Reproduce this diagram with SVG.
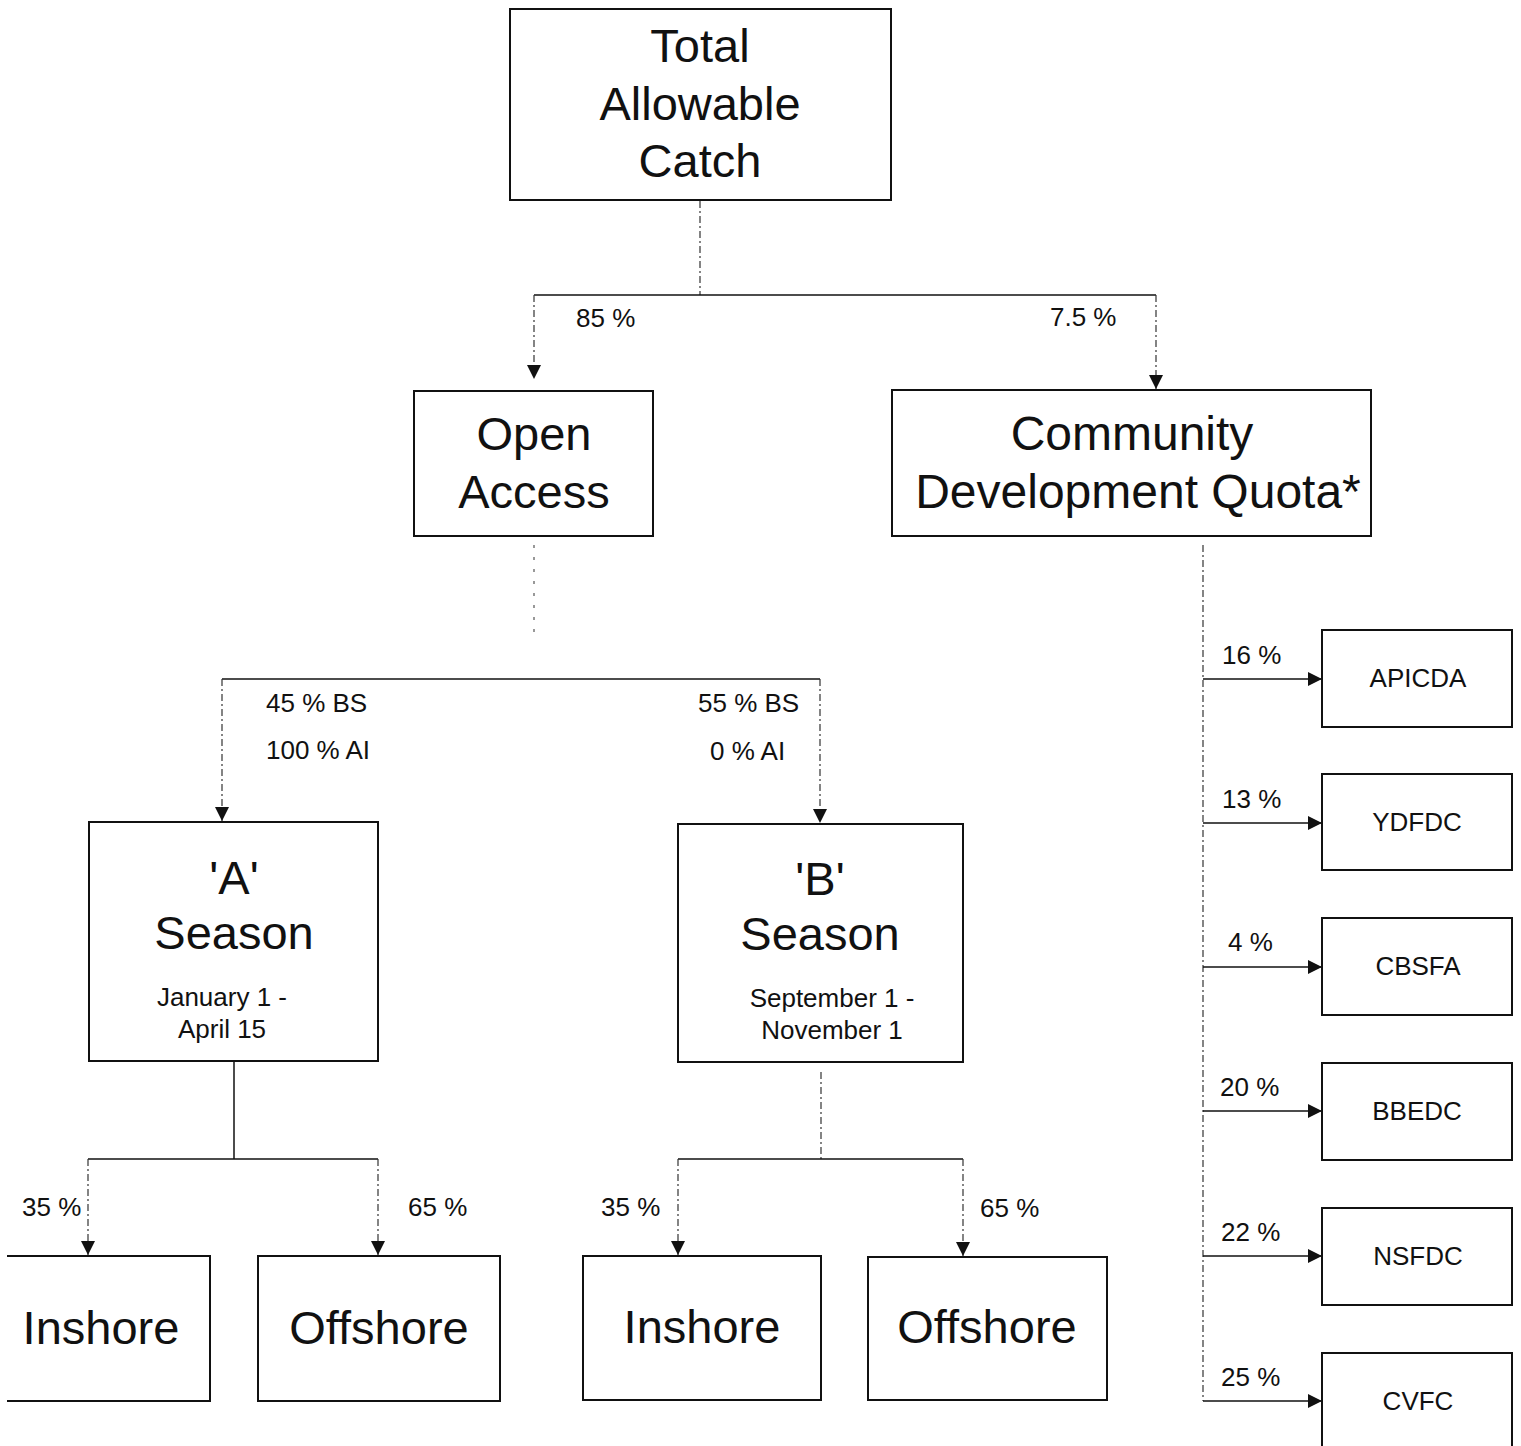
<svg xmlns="http://www.w3.org/2000/svg" width="1521" height="1446" viewBox="0 0 1521 1446">
<style>
.box{fill:#fff;stroke:#111;stroke-width:2}
.big{font-family:"Liberation Sans",Arial,sans-serif;font-size:47px;fill:#111;text-anchor:middle}
.sm{font-family:"Liberation Sans",Arial,sans-serif;font-size:26px;fill:#111;text-anchor:middle}
.lbl{font-family:"Liberation Sans",Arial,sans-serif;font-size:26px;fill:#111;text-anchor:start}
.solid{fill:none;stroke:#111;stroke-width:1.5}
.dash{fill:none;stroke:#333;stroke-width:1.2;stroke-dasharray:7 3 2 3}
.dot{fill:none;stroke:#555;stroke-width:1.2;stroke-dasharray:3 9}
</style>
<defs>
<marker id="ah" markerUnits="userSpaceOnUse" markerWidth="14" markerHeight="14" refX="14" refY="7" orient="auto">
<path d="M0,0 L14,7 L0,14 z" fill="#111"/>
</marker>
</defs>
<rect width="1521" height="1446" fill="#fff"/>
<g id="connectors">
<path class="dash" d="M700,201 V295"/>
<path class="solid" d="M534,295 H1156"/>
<path class="dash" d="M534,295 V379" marker-end="url(#ah)"/>
<path class="dash" d="M1156,295 V389" marker-end="url(#ah)"/>
<path class="dot" d="M534,545 V640"/>
<path class="solid" d="M222,679 H820"/>
<path class="dash" d="M222,679 V821" marker-end="url(#ah)"/>
<path class="dash" d="M820,679 V823" marker-end="url(#ah)"/>
<path class="solid" d="M234,1062 V1159"/>
<path class="solid" d="M88,1159 H378"/>
<path class="dash" d="M88,1159 V1255" marker-end="url(#ah)"/>
<path class="dash" d="M378,1159 V1255" marker-end="url(#ah)"/>
<path class="dash" d="M821,1072 V1159"/>
<path class="solid" d="M678,1159 H963"/>
<path class="dash" d="M678,1159 V1255" marker-end="url(#ah)"/>
<path class="dash" d="M963,1159 V1256" marker-end="url(#ah)"/>
<path class="dash" d="M1203,545 V1401"/>
<path class="solid" d="M1203,679 H1322" marker-end="url(#ah)"/>
<path class="solid" d="M1203,823 H1322" marker-end="url(#ah)"/>
<path class="solid" d="M1203,967 H1322" marker-end="url(#ah)"/>
<path class="solid" d="M1203,1111 H1322" marker-end="url(#ah)"/>
<path class="solid" d="M1203,1256 H1322" marker-end="url(#ah)"/>
<path class="solid" d="M1203,1401 H1322" marker-end="url(#ah)"/>
<text class="lbl" x="576" y="327">85 %</text>
<text class="lbl" x="1050" y="326">7.5 %</text>
<text class="lbl" x="266" y="712">45 % BS</text>
<text class="lbl" x="266" y="759">100 % AI</text>
<text class="lbl" x="698" y="712">55 % BS</text>
<text class="lbl" x="710" y="760">0 % AI</text>
<text class="lbl" x="22" y="1216">35 %</text>
<text class="lbl" x="408" y="1216">65 %</text>
<text class="lbl" x="601" y="1216">35 %</text>
<text class="lbl" x="980" y="1217">65 %</text>
<text class="lbl" x="1222" y="664">16 %</text>
<text class="lbl" x="1222" y="808">13 %</text>
<text class="lbl" x="1228" y="951">4 %</text>
<text class="lbl" x="1220" y="1096">20 %</text>
<text class="lbl" x="1221" y="1241">22 %</text>
<text class="lbl" x="1221" y="1386">25 %</text>
</g>
<g id="tac">
<rect class="box" x="510" y="9" width="381" height="191"/>
<text class="big" x="700" y="62">Total</text>
<text class="big" x="700" y="120">Allowable</text>
<text class="big" x="700" y="177">Catch</text>
</g>
<g id="open-access">
<rect class="box" x="414" y="391" width="239" height="145"/>
<text class="big" x="534" y="450">Open</text>
<text class="big" x="534" y="508">Access</text>
</g>
<g id="cdq">
<rect class="box" x="892" y="390" width="479" height="146"/>
<text class="big" x="1132" y="450" style="font-size:48px">Community</text>
<text class="big" x="1138" y="508" style="font-size:48px">Development Quota*</text>
</g>
<g id="a-season">
<rect class="box" x="89" y="822" width="289" height="239"/>
<text class="big" x="234" y="894">'A'</text>
<text class="big" x="234" y="949">Season</text>
<text class="sm" x="222" y="1006">January 1 -</text>
<text class="sm" x="222" y="1038">April 15</text>
</g>
<g id="b-season">
<rect class="box" x="678" y="824" width="285" height="238"/>
<text class="big" x="820" y="895">'B'</text>
<text class="big" x="820" y="950">Season</text>
<text class="sm" x="832" y="1007">September 1 -</text>
<text class="sm" x="832" y="1039">November 1</text>
</g>
<g id="a-inshore">
<path class="box" d="M7,1256 H210 V1401 H7"/>
<text class="big" x="101" y="1344">Inshore</text>
</g>
<g id="a-offshore">
<rect class="box" x="258" y="1256" width="242" height="145"/>
<text class="big" x="379" y="1344">Offshore</text>
</g>
<g id="b-inshore">
<rect class="box" x="583" y="1256" width="238" height="144"/>
<text class="big" x="702" y="1343">Inshore</text>
</g>
<g id="b-offshore">
<rect class="box" x="868" y="1257" width="239" height="143"/>
<text class="big" x="987" y="1343">Offshore</text>
</g>
<g id="apicda">
<rect class="box" x="1322" y="630" width="190" height="97"/>
<text class="sm" x="1418" y="687">APICDA</text>
</g>
<g id="ydfdc">
<rect class="box" x="1322" y="774" width="190" height="96"/>
<text class="sm" x="1417" y="831">YDFDC</text>
</g>
<g id="cbsfa">
<rect class="box" x="1322" y="918" width="190" height="97"/>
<text class="sm" x="1418" y="975">CBSFA</text>
</g>
<g id="bbedc">
<rect class="box" x="1322" y="1063" width="190" height="97"/>
<text class="sm" x="1417" y="1120">BBEDC</text>
</g>
<g id="nsfdc">
<rect class="box" x="1322" y="1208" width="190" height="97"/>
<text class="sm" x="1418" y="1265">NSFDC</text>
</g>
<g id="cvfc">
<rect class="box" x="1322" y="1353" width="190" height="110"/>
<text class="sm" x="1418" y="1410">CVFC</text>
</g>
</svg>
